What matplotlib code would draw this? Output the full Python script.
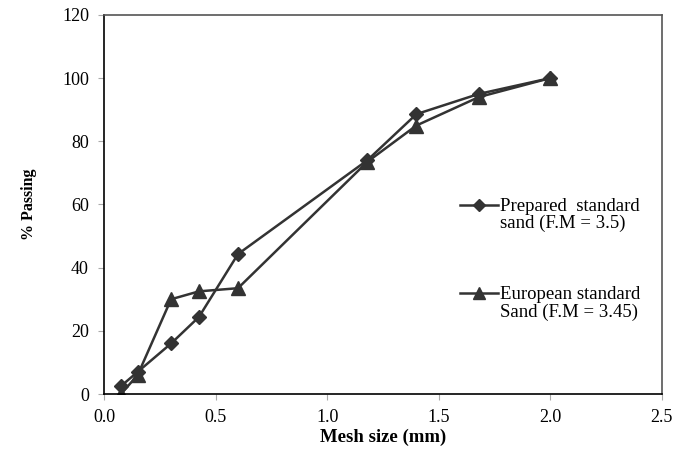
import matplotlib
matplotlib.use("Agg")
import matplotlib.pyplot as plt
from matplotlib.lines import Line2D

plt.rcParams['font.family'] = ['Liberation Serif', 'DejaVu Serif']

mesh = [0.075, 0.15, 0.3, 0.425, 0.6, 1.18, 1.4, 1.68, 2.0]
prepared = [2.5, 7, 16, 24.4, 44.3, 74, 88.6, 95, 100]
european = [0, 6, 30, 32.5, 33.5, 73.5, 85, 94, 100]
label_prepared = ["Prepared  standard", "sand (F.M = 3.5)"]
label_european = ["European standard", "Sand (F.M = 3.45)"]

fig = plt.figure(figsize=(6.9, 4.5), dpi=100)
ax = fig.add_axes([0.151, 0.1244, 0.808, 0.8424])
col = '#333333'
l1, = ax.plot(mesh, prepared, marker='D', markersize=7, color=col, lw=1.8)
l2, = ax.plot(mesh, european, marker='^', markersize=10, color=col, lw=1.8)

ax.set_xlim(0, 2.5)
ax.set_ylim(0, 120)
ax.set_xticks([0, 0.5, 1.0, 1.5, 2.0, 2.5])
ax.set_xticklabels(['0.0', '0.5', '1.0', '1.5', '2.0', '2.5'])
ax.set_yticks(range(0, 121, 20))
ax.tick_params(axis='both', labelsize=13, color='#aaaaaa', length=4, direction='out', pad=7)
for s in ['left', 'bottom']:
    ax.spines[s].set_color('black')
    ax.spines[s].set_linewidth(1.2)
for s in ['top', 'right']:
    ax.spines[s].set_color('#555555')
    ax.spines[s].set_linewidth(1.2)
ax.set_xlabel('Mesh size (mm)', fontsize=13.5, fontweight='bold', labelpad=2)
ax.set_ylabel('% Passing', fontsize=11.5, fontweight='bold', labelpad=18)

blank = Line2D([], [], color='none')
h1 = Line2D([], [], color=col, lw=1.8, marker='D', markersize=6)
h2 = Line2D([], [], color=col, lw=1.8, marker='^', markersize=8)
common = dict(loc='upper left', bbox_transform=fig.transFigure, frameon=False,
              fontsize=13.5, labelspacing=0.0, handlelength=2.0, handletextpad=0.15,
              borderpad=0, borderaxespad=0)
leg1 = ax.legend([h1, blank], label_prepared, bbox_to_anchor=(0.6667, 0.560), **common)
ax.add_artist(leg1)
leg2 = ax.legend([h2, blank], label_european, bbox_to_anchor=(0.6667, 0.364), **common)

fig.savefig('out.png', dpi=100)
